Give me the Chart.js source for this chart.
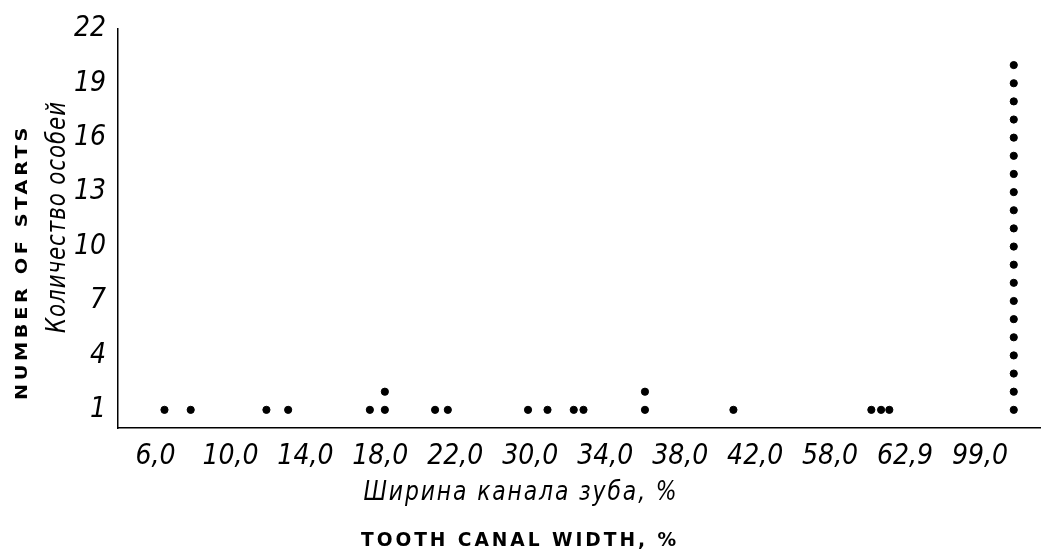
<!DOCTYPE html>
<html>
<head>
<meta charset="utf-8">
<script src="https://cdn.jsdelivr.net/npm/chart.js@4"></script>
<style>
  html, body { margin: 0; padding: 0; background: #fff; }
  #wrap { width: 1046px; height: 560px; }
</style>
</head>
<body>
<div id="wrap"><canvas id="chart"></canvas></div>
<script>
// ---- data ----
const widthLabels = ["6,0", "10,0", "14,0", "18,0", "22,0", "30,0", "34,0", "38,0", "42,0", "58,0", "62,9", "99,0"];
// where each stack of dots sits, measured in label steps (0 = "6,0")
const stackPositions = [0.12, 0.47, 1.48, 1.77, 2.86, 3.06, 3.73, 3.9, 4.97, 5.23, 5.58, 5.71, 6.53, 7.71, 9.55, 9.68, 9.79, 11.45];
const stackCounts    = [1, 1, 1, 1, 1, 2, 1, 1, 1, 1, 1, 1, 2, 1, 1, 1, 1, 20];
const countTicks = [1, 4, 7, 10, 13, 16, 19, 22];

// one point per specimen, stacked upwards
const dots = [];
stackPositions.forEach((pos, i) => {
  for (let k = 1; k <= stackCounts[i]; k++) {
    dots.push({ x: pos, y: k });
  }
});

const NARROW = "'Liberation Sans Narrow', 'DejaVu Sans Condensed', sans-serif";

// draws a text squeezed/stretched to a given width
function fitText(ctx, text, cx, cy, targetWidth, font, spacing) {
  ctx.save();
  ctx.font = font;
  ctx.letterSpacing = spacing || "0px";
  const w = ctx.measureText(text).width;
  ctx.translate(cx, cy);
  ctx.scale(targetWidth / w, 1);
  ctx.textAlign = "center";
  ctx.textBaseline = "middle";
  ctx.fillText(text, 0, 0);
  ctx.restore();
}

const titlesPlugin = {
  id: "titles",
  afterDraw(chart) {
    const ctx = chart.ctx;
    ctx.save();
    ctx.fillStyle = "#000";

    // x titles
    fitText(ctx, "Ширина канала зуба, %", 521, 493, 315, "italic 26px " + NARROW, "2px");
    fitText(ctx, "TOOTH CANAL WIDTH, %", 520, 541, 318, "bold 19px 'DejaVu Sans', sans-serif", "3px");

    // y titles (rotated)
    ctx.save();
    ctx.translate(58, 217);
    ctx.rotate(-Math.PI / 2);
    fitText(ctx, "Количество особей", 0, 0, 232, "italic 26px " + NARROW, "1px");
    ctx.restore();

    ctx.save();
    ctx.translate(23, 262);
    ctx.rotate(-Math.PI / 2);
    fitText(ctx, "NUMBER OF STARTS", 0, 0, 276, "bold 16px 'DejaVu Sans', sans-serif", "3px");
    ctx.restore();

    ctx.restore();
  }
};

new Chart(document.getElementById("chart"), {
  type: "scatter",
  data: {
    datasets: [{
      data: dots,
      backgroundColor: "#000",
      borderColor: "#000",
      pointRadius: 3.6,
      pointHoverRadius: 3.6
    }]
  },
  options: {
    responsive: true,
    maintainAspectRatio: false,
    animation: false,
    layout: { padding: { top: 24, right: 6, left: 0, bottom: 0 } },
    plugins: {
      legend: { display: false },
      tooltip: { enabled: false }
    },
    scales: {
      x: {
        type: "linear",
        min: -0.5,
        max: 11.8,
        afterBuildTicks: (scale) => {
          scale.ticks = widthLabels.map((_, i) => ({ value: i }));
        },
        afterFit: (scale) => { scale.height = 132; },
        ticks: {
          color: "#000",
          padding: 12,
          font: { family: NARROW, size: 28, style: "italic" },
          maxRotation: 0,
          autoSkip: false,
          callback: (value) => widthLabels[value]
        },
        grid: { display: false, drawTicks: false },
        border: { display: true, color: "#000", width: 1.5, dash: [7, 4] }
      },
      y: {
        type: "linear",
        min: 0,
        max: 22,
        afterBuildTicks: (scale) => {
          scale.ticks = countTicks.map(v => ({ value: v }));
        },
        afterFit: (scale) => { scale.width = 118; },
        ticks: {
          color: "#000",
          padding: 12,
          font: { family: NARROW, size: 28, style: "italic" },
          callback: (value) => String(value)
        },
        grid: { display: false, drawTicks: false },
        border: { display: true, color: "#000", width: 1.5, dash: [5, 3] }
      }
    }
  },
  plugins: [titlesPlugin]
});
</script>
</body>
</html>
